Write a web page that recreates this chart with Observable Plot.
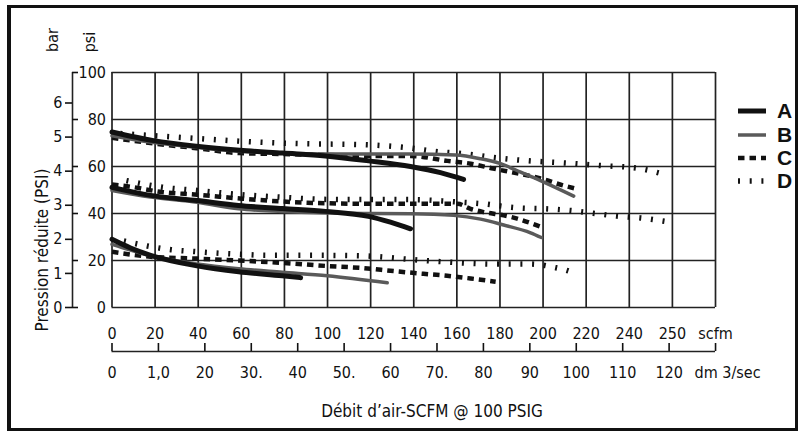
<!DOCTYPE html>
<html><head><meta charset="utf-8">
<script src="https://cdn.jsdelivr.net/npm/d3@7"></script>
<script src="https://cdn.jsdelivr.net/npm/@observablehq/plot@0.6"></script>
<style>
body{margin:0;background:#fff;}
#wrap{position:relative;width:803px;height:435px;overflow:hidden;background:#fff;}
#chart{position:absolute;left:0;top:0;}
#frame{position:absolute;left:7px;top:5px;width:784px;height:420px;border:3px solid #111;border-left-width:4px;pointer-events:none;}
.cond{font-family:"DejaVu Sans Condensed","DejaVu Sans",sans-serif;font-stretch:condensed;color:#111;}
.narrow{font-family:"Liberation Sans Narrow","DejaVu Sans Condensed",sans-serif;font-stretch:condensed;color:#111;}
.rot{position:absolute;transform:translate(-50%,-50%) rotate(-90deg);white-space:nowrap;line-height:1;}
.abs{position:absolute;white-space:nowrap;line-height:1;}
.legrow{position:absolute;left:736px;height:22px;display:flex;align-items:center;}
.legrow span{font-family:"Liberation Sans",Arial,sans-serif;font-weight:bold;font-size:21px;margin-left:9px;color:#111;}
</style></head><body>
<div id="wrap">
  <div id="chart"></div>
  <div class="rot cond" style="left:53px;top:40px;font-size:16px">bar</div>
  <div class="rot cond" style="left:90px;top:42px;font-size:16px">psi</div>
  <div class="rot narrow" style="left:42px;top:250px;font-size:17px">Pression réduite (PSI)</div>
  <div class="abs narrow" style="left:432px;top:411px;transform:translate(-50%,-50%);font-size:17px">Débit d’air-SCFM @ 100 PSIG</div>
  <div id="legend"></div>
  <div id="frame"></div>
</div>
<script>
// ---- data (scfm, psi) ----
const seriesNames = ["A", "B", "C", "D"];
const psiTicks = [0, 20, 40, 60, 80, 100];
const barTicks = [0, 1, 2, 3, 4, 5, 6];
const PSI_PER_BAR = 14.5038;
const gridX = [0, 20, 40, 60, 80, 100, 120, 140, 160, 180, 200, 220, 240, 260, 280];
const scfmTicks = [0, 20, 40, 60, 80, 100, 120, 140, 160, 180, 200, 220, 240, 260, 280];
const scfmLabels = ["0", "20", "40", "60", "80", "100", "120", "140", "160", "180", "200", "220", "240", "250", "scfm"];
const DM_TO_SCFM = 2.154;
const dmTicks = [0, 10, 20, 30, 40, 50, 60, 70, 80, 90, 100, 110, 120, 130];
const dmLabels = ["0", "1,0", "20", "30.", "40", "50.", "60", "70.", "80", "90", "100", "110", "120"];
const dmUnit = ["dm 3/sec"];

// high setting (~75 psi)
const A_hi = [[0,74.7],[19.3,71.0],[39.2,68.6],[59.2,66.9],[79.1,65.7],[99,64.5],[119,62.4],[138.5,60.0],[152.4,57.4],[163.1,54.5]];
const B_hi = [[0,73.1],[19.3,70.2],[39.2,68.2],[59.2,66.5],[79.1,65.7],[99,65.3],[119,65.3],[138.5,65.3],[159.4,64.9],[171,63.3],[180.3,61.2],[189.6,57.6],[198.8,54.0],[214.2,47.4]];
const C_hi = [[0,72.2],[19.5,69.8],[39.2,67.8],[59.2,65.7],[79.1,65.3],[99,64.9],[119,64.5],[138.5,64.5],[155.6,62.4],[166.4,61.2],[176.9,59.1],[188.6,57.0],[198.8,54.9],[209.5,51.9],[215,50.6]];
const D_hi = [[3.9,74.0],[16.3,73.3],[38.4,72.0],[55,71.0],[71.6,70.2],[88.3,69.7],[116.1,69.3],[138,67.9],[149.3,66.5],[165.6,65.2],[177.2,63.8],[193.4,62.4],[210.1,61.5],[226.7,60.4],[243.7,59.3],[254.5,57.1]];
// middle setting (~50 psi)
const A_mid = [[0,51.1],[17.9,47.7],[39.5,45.5],[58.7,43.4],[79.1,42.1],[99.1,40.9],[119,38.8],[129.2,36.3],[138.5,33.5]];
const B_mid = [[0,49.8],[17.9,47.0],[39.5,44.8],[58.7,42.0],[79.1,40.9],[96.7,40.3],[119,40.0],[138.5,39.9],[158.5,39.2],[171,37.6],[181.7,35.1],[194.2,31.8],[199.2,29.8]];
const C_mid = [[0,52.3],[7,51.6],[23.3,49.1],[39.5,48.0],[60.4,46.3],[79.1,45.1],[90.6,44.6],[120,44.1],[160.3,44.1],[166.3,42.0],[172.4,40.6],[181.7,39.2],[188,37.8],[193.4,36.2],[198.8,34.4]];
const D_mid = [[6.7,54.0],[23.3,51.2],[39.5,49.8],[60.4,48.0],[79.1,46.9],[90.6,46.3],[100,46.0],[140,45.9],[161.7,44.8],[172.4,44.1],[184.9,42.7],[190.3,42.3],[201.2,42.0],[212.4,41.3],[223.3,40.1],[234.4,38.9],[245.2,38.1],[256.4,36.7]];
// low setting (~25 psi)
const A_lo = [[0,29.0],[8.6,25.3],[17.9,22.2],[39.5,17.7],[58.8,15.2],[79,13.5],[87.5,12.7]];
const B_lo = [[0,26.9],[8.6,24.4],[17.9,22.0],[39.5,18.5],[58.8,16.5],[79,15.0],[99.9,13.5],[127.7,10.5]];
const C_lo = [[0,23.7],[17.9,21.6],[39.5,20.8],[58.7,20.0],[79,19.0],[99.9,17.65],[115.3,16.85],[130.6,15.5],[144.5,14.35],[155.5,13.5],[166.4,12.35],[178,11.0]];
const D_lo = [[5.5,28.3],[16.3,26.2],[27.4,24.6],[38.4,23.8],[49.6,23.1],[60.4,22.6],[71.6,22.2],[93.6,22.2],[115.3,22.0],[143.2,20.1],[155.5,19.35],[177.2,18.5],[193.4,18.5],[199.2,18.15],[204.6,17.15],[210.1,16.0],[215.5,14.35]];

const curves = [
  ["D", D_hi], ["D", D_mid], ["D", D_lo],
  ["C", C_hi], ["C", C_mid], ["C", C_lo],
  ["B", B_hi], ["B", B_mid], ["B", B_lo],
  ["A", A_hi], ["A", A_mid], ["A", A_lo]
];
const styles = {
  A: {stroke: "#111", strokeWidth: 5, strokeLinecap: "round"},
  B: {stroke: "#5a5a5a", strokeWidth: 3.5, strokeLinecap: "round"},
  C: {stroke: "#111", strokeWidth: 4.5, strokeDasharray: "6.5,5", strokeLinecap: "butt"},
  D: {stroke: "#111", strokeWidth: 5.5, strokeDasharray: "2,9.7", strokeLinecap: "butt"}
};

const lineMarks = curves.map(([s, pts]) =>
  Plot.line(pts, {x: d => d[0], y: d => d[1], curve: "monotone-x", strokeLinejoin: "round", ...styles[s]}));

const chart = Plot.plot({
  width: 803, height: 435,
  marginLeft: 111.5, marginRight: 88, marginTop: 72, marginBottom: 128,
  x: {domain: [0, 280]},
  y: {domain: [0, 100]},
  style: {fontFamily: '"DejaVu Sans Condensed","DejaVu Sans",sans-serif', fontSize: "16px", color: "#111", background: "transparent", fontStretch: "condensed"},
  marks: [
    Plot.ruleX(gridX, {y1: 0, y2: 100, stroke: "#222", strokeWidth: 1.7}),
    Plot.ruleY(psiTicks, {x1: 0, x2: 280, stroke: "#222", strokeWidth: 1.7}),
    ...lineMarks,
    // left axes (bar & psi) sharing one vertical line
    Plot.ruleX([0], {y1: 0, y2: 100, dx: -39.5, stroke: "#222", strokeWidth: 1.6}),
    Plot.axisY(psiTicks, {anchor: "left", tickSize: 6, dx: -33.5, tickFormat: () => "", strokeWidth: 1.6, label: null}),
    Plot.axisY(psiTicks, {anchor: "left", tickSize: 0, tickPadding: 0, dx: -6, tickFormat: d => String(d), fontSize: 16, label: null}),
    Plot.axisY(barTicks.map(b => b * PSI_PER_BAR), {anchor: "left", tickSize: 7, tickPadding: 3, dx: -39.5, strokeWidth: 1.6,
      tickFormat: d => String(Math.round(d / PSI_PER_BAR)), fontSize: 16, label: null}),
    // scfm axis labels
    Plot.axisX(scfmTicks, {anchor: "bottom", tickSize: 0, tickPadding: 20,
      tickFormat: d => scfmLabels[scfmTicks.indexOf(d)], fontSize: 16, label: null}),
    // dm3/sec axis
    Plot.ruleY([0], {x1: 0, x2: dmTicks[dmTicks.length - 1] * DM_TO_SCFM, dy: 44, stroke: "#222", strokeWidth: 1.6}),
    Plot.axisX(dmTicks.map(v => v * DM_TO_SCFM), {anchor: "bottom", tickSize: 8, dy: 36, strokeWidth: 1.6, tickFormat: () => "", label: null}),
    Plot.axisX(dmTicks.slice(0, dmLabels.length).map(v => v * DM_TO_SCFM), {anchor: "bottom", tickSize: 0, tickPadding: 0, dy: 59,
      tickFormat: d => dmLabels[Math.round(d / DM_TO_SCFM / 10)], fontSize: 16, label: null}),
    Plot.text(dmUnit, {x: dmTicks[dmTicks.length - 1] * DM_TO_SCFM, frameAnchor: "bottom", dy: 65, dx: 12, text: d => d, fontSize: 16, lineAnchor: "middle"})
  ]
});
document.getElementById("chart").appendChild(chart);

// legend
const legTops = {A: 100, B: 124, C: 147, D: 170};
const leg = document.getElementById("legend");
for (const s of seriesNames) {
  const st = styles[s];
  const row = document.createElement("div");
  row.className = "legrow";
  row.style.top = legTops[s] + "px";
  row.innerHTML = `<svg width="32" height="22"><line x1="2" x2="30" y1="11" y2="11" stroke="${st.stroke}" stroke-width="${st.strokeWidth}" ${st.strokeDasharray ? `stroke-dasharray="${st.strokeDasharray}"` : ""}/></svg><span>${s}</span>`;
  leg.appendChild(row);
}
</script>
</body></html>
